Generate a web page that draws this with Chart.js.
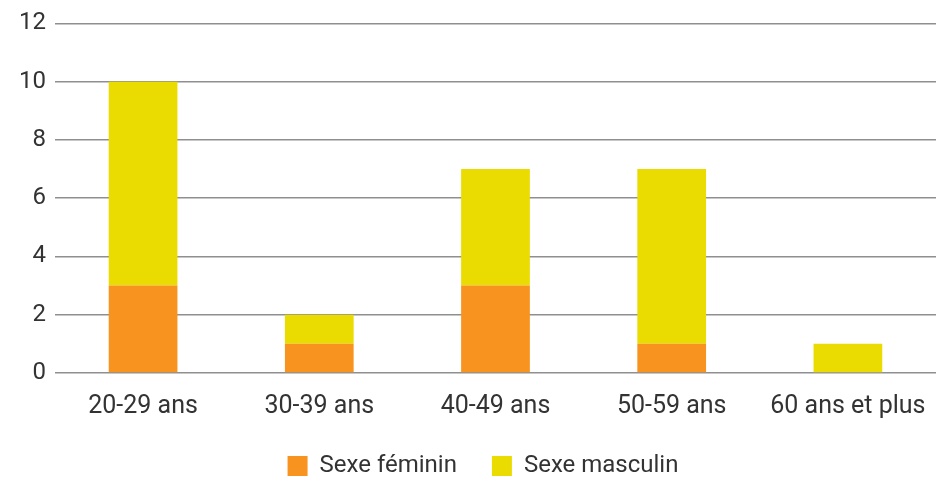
<!DOCTYPE html>
<html>
<head>
<meta charset="utf-8">
<script src="https://cdn.jsdelivr.net/npm/chart.js@4/dist/chart.umd.min.js"></script>
<style>
  html, body { margin: 0; padding: 0; background: #fff; }
  #wrap { width: 943px; height: 477px; position: relative; }
</style>
</head>
<body>
<div id="wrap"><canvas id="barChart"></canvas></div>
<script>
// Chart data
const categories = ["20-29 ans", "30-39 ans", "40-49 ans", "50-59 ans", "60 ans et plus"];
const feminin = [3, 1, 3, 1, 0];
const masculin = [7, 1, 4, 6, 1];
const yTicks = [0, 2, 4, 6, 8, 10, 12];

const font = "Roboto, 'Liberation Sans', sans-serif";

// Legend padding also sets the gap between items, so take back some height
// and nudge the legend box after layout
const legendTrim = {
  id: "legendTrim",
  afterInit(chart) {
    const lg = chart.legend;
    if (!lg) return;
    const fit = lg.fit.bind(lg);
    lg.fit = function () {
      fit();
      this.height -= 27;
    };
  },
  afterLayout(chart) {
    const lg = chart.legend;
    if (!lg) return;
    lg.top -= 14;
    lg.bottom = chart.height; // keep the items inside the legend clip
    lg.left += 10;
    lg.right += 10;
  },
};

function drawBarChart() {
  const ctx = document.getElementById("barChart").getContext("2d");

  new Chart(ctx, {
    type: "bar",
    data: {
      labels: categories,
      datasets: [
        {
          label: "Sexe féminin",
          data: feminin,
          backgroundColor: "#F7931E",
          barPercentage: 0.39,
          categoryPercentage: 1,
        },
        {
          label: "Sexe masculin",
          data: masculin,
          backgroundColor: "#EADC00",
          barPercentage: 0.39,
          categoryPercentage: 1,
        },
      ],
    },
    plugins: [legendTrim],
    options: {
      responsive: true,
      maintainAspectRatio: false,
      animation: false,
      layout: {
        padding: { left: 10, right: 7, top: 10, bottom: 2 },
      },
      plugins: {
        tooltip: { enabled: false },
        legend: {
          position: "bottom",
          labels: {
            boxWidth: 20,
            boxHeight: 20,
            padding: 35,
            color: "#333",
            font: { family: font, size: 24 },
          },
        },
      },
      scales: {
        x: {
          stacked: true,
          grid: { display: false },
          border: { display: false },
          ticks: {
            color: "#333",
            padding: 11,
            font: { family: font, size: 25 },
          },
        },
        y: {
          stacked: true,
          min: 0,
          max: 12,
          afterBuildTicks: axis => {
            axis.ticks = yTicks.map(v => ({ value: v }));
          },
          grid: { color: "#8f8f8f", lineWidth: 1.5, drawTicks: false },
          border: { display: false },
          ticks: {
            color: "#333",
            padding: 9,
            font: { family: font, size: 24 },
          },
        },
      },
    },
  });
}

drawBarChart();
</script>
</body>
</html>
